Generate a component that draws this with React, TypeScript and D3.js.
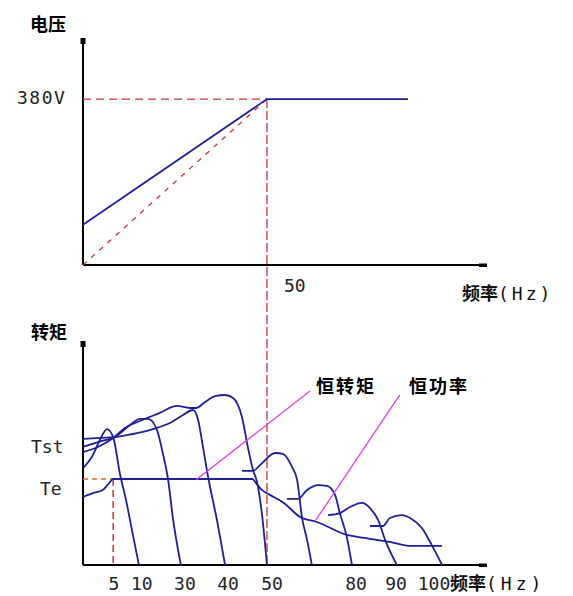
import React from "react";
import * as d3 from "d3";

// ---------- data (frequency in Hz-like diagram units, voltage in V, torque in %) ----------
const voltageFreq = [0, 50, 88.3];
const voltageBlue = [92, 380, 380];
const ratedFreq = 50;
const ratedVoltage = 380;

const lowFreqPoint = 8.2; // "5" marker
const teTorque = 38.4;

const bottomTickLabels = ["5", "10", "30", "40", "50", "80", "90", "100"];
const bottomTickPos = [8.4, 16.0, 27.7, 39.4, 51.4, 74.2, 85.1, 95.4];

type P = [number, number];
const curveTe: P[] = [[0, 30.4], [2.7, 32.1], [5.4, 33.5], [7.1, 36.6], [8.2, 38.4], [46.2, 38.4]];
const curveA: P[] = [[0, 43.3], [2.4, 48.2], [4.6, 55.8], [6.5, 60.7], [8.2, 57.1], [10.1, 40.2], [11.7, 29.0], [13.3, 15.6], [15.2, 0]];
const curveTst: P[] = [[0, 56.3], [8.7, 57.1]];
const curveB: P[] = [[0, 52.7], [5.2, 55.4], [8.7, 57.1], [12.8, 62.5], [15.5, 65.2], [17.7, 65.2], [20.1, 60.3], [21.5, 51.3], [23.1, 38.4], [24.5, 20.1], [26.6, 0]];
const curveC: P[] = [[8.7, 57.1], [14.7, 58.9], [19.0, 60.7], [23.6, 63.4], [27.2, 67.0], [29.9, 69.2], [31.3, 64.7], [32.6, 52.7], [34.0, 39.3], [36.4, 20.1], [38.6, 0]];
const curveD: P[] = [[0, 50.4], [4.6, 53.1], [8.2, 56.7], [11.4, 61.2], [15.5, 64.3], [20.9, 67.9], [25.5, 71.0], [29.1, 70.1], [30.7, 70.1], [33.2, 72.8], [35.9, 75.4], [38.6, 75.9], [40.8, 74.6], [43.2, 66.1], [44.8, 52.7], [46.2, 42.4], [47.3, 37.1], [48.6, 23.2], [50, 0]];
const curveE: P[] = [[43.2, 42.0], [46.2, 42.0], [48.1, 44.6], [52.2, 50.0], [54.3, 49.6], [56.8, 43.8], [58.2, 37.9], [59.5, 21.4], [60.9, 11.2], [62.2, 0]];
const curveF: P[] = [[55.4, 29.5], [58.4, 29.5], [60.9, 33.5], [63.9, 35.7], [66.3, 35.3], [68.5, 31.3], [69.8, 23.2], [71.7, 12.5], [73.1, 0]];
const curveG: P[] = [[66.6, 22.3], [69.8, 23.2], [72.6, 25.9], [75.8, 27.7], [78.0, 25.4], [80.2, 20.1], [82.1, 11.2], [85.3, 0]];
const curveH: P[] = [[78.0, 17.4], [81.5, 17.4], [83.4, 21.0], [86.7, 22.3], [88.9, 21.0], [92.1, 16.5], [94.8, 8.9], [97.6, 0]];
const curvePower: P[] = [[46.2, 38.4], [48.6, 33.5], [50.8, 31.3], [54.6, 27.7], [59.0, 21.4], [63.6, 19.2], [71.7, 13.4], [76.4, 12.1], [83.4, 10.3], [89.1, 8.5], [97.6, 8.5]];

const leaderTorque: P[] = [[30.7, 37.9], [61.7, 77.7]];
const leaderPower: P[] = [[63.3, 20.1], [86.1, 75.9]];

const motorCurves = [curveTe, curveA, curveTst, curveB, curveC, curveD, curveE, curveF, curveG, curveH, curvePower];

// ---------- layout ----------
const W = 573, H = 596;
const BLUE = "#1f1f96";
const RED = "#c8363a";
const PINK = "#e040e0";
const CJK = "'Noto Sans CJK SC', sans-serif";
const MONO = "'DejaVu Sans Mono', monospace";

export default function App() {
  const x = d3.scaleLinear().domain([0, 109.8]).range([83, 487]);
  const yTop = d3.scaleLinear().domain([0, 520]).range([265, 38]);
  const yBot = d3.scaleLinear().domain([0, 100]).range([565, 341]);

  const lineTop = d3.line<number>().x((_, i) => x(voltageFreq[i])).y((v) => yTop(v));
  const lineBot = d3.line<P>().x((d) => x(d[0])).y((d) => yBot(d[1])).curve(d3.curveMonotoneX);
  const lineStraight = d3.line<P>().x((d) => x(d[0])).y((d) => yBot(d[1]));

  const xMax = x.domain()[1];

  return (
    <svg width={W} height={H} style={{ position: "absolute", left: 0, top: 0, background: "#fff" }}>
      {/* ----- top chart ----- */}
      <line x1={x(0)} x2={x(0)} y1={yTop(0)} y2={yTop(520)} stroke="#000" strokeWidth={2} />
      <rect x={x(0) - 2.5} y={yTop(520)} width={5} height={6} fill="#000" />
      <line x1={x(0)} x2={x(xMax)} y1={yTop(0)} y2={yTop(0)} stroke="#000" strokeWidth={2} />
      <rect x={x(xMax) - 8} y={yTop(0) - 1.5} width={8} height={3.5} fill="#000" />

      {/* dashed reference lines */}
      <line x1={x(0)} x2={x(ratedFreq)} y1={yTop(ratedVoltage)} y2={yTop(ratedVoltage)} stroke={RED} strokeWidth={1.3} strokeDasharray="8,5" />
      <line x1={x(0)} x2={x(ratedFreq)} y1={yTop(0)} y2={yTop(ratedVoltage)} stroke={RED} strokeWidth={1.3} strokeDasharray="5,6" />
      <line x1={x(ratedFreq)} x2={x(ratedFreq)} y1={yTop(ratedVoltage)} y2={yBot(0)} stroke={RED} strokeWidth={1.3} strokeDasharray="9,3" />

      <path d={lineTop(voltageBlue) || ""} fill="none" stroke={BLUE} strokeWidth={1.8} />

      <text x={30} y={31} fontFamily={CJK} fontWeight="bold" fontSize={18}>电压</text>
      <text x={17} y={104} fontFamily={MONO} fontSize={18} letterSpacing={1.5} fill="#222">380V</text>
      <text x={x(ratedFreq) + 17} y={292} fontFamily={MONO} fontSize={18} fill="#222">50</text>
      <text x={462} y={300} fontSize={18} fill="#111">
        <tspan fontFamily={CJK} fontWeight="bold">频率</tspan>
        <tspan fontFamily={MONO} letterSpacing={3}>(Hz)</tspan>
      </text>

      {/* ----- bottom chart ----- */}
      <line x1={x(0)} x2={x(0)} y1={yBot(0)} y2={yBot(100)} stroke="#000" strokeWidth={2} />
      <rect x={x(0) - 2.5} y={yBot(100)} width={5} height={6} fill="#000" />
      <line x1={x(0)} x2={x(xMax)} y1={yBot(0)} y2={yBot(0)} stroke="#000" strokeWidth={2} />
      <rect x={x(xMax) - 8} y={yBot(0) - 1.5} width={8} height={3.5} fill="#000" />

      {/* Te dashed marker */}
      <line x1={x(0)} x2={x(lowFreqPoint)} y1={yBot(teTorque)} y2={yBot(teTorque)} stroke="#d07030" strokeWidth={1.3} strokeDasharray="5,4" />
      <line x1={x(lowFreqPoint)} x2={x(lowFreqPoint)} y1={yBot(teTorque)} y2={yBot(0)} stroke={RED} strokeWidth={1.5} strokeDasharray="7,4" />

      {motorCurves.map((c, i) => (
        <path key={i} d={lineBot(c) || ""} fill="none" stroke={BLUE} strokeWidth={1.8} />
      ))}

      {/* leaders */}
      <path d={lineStraight(leaderTorque) || ""} stroke={PINK} strokeWidth={1.3} fill="none" />
      <path d={lineStraight(leaderPower) || ""} stroke={PINK} strokeWidth={1.3} fill="none" />

      <text x={31} y={339} fontFamily={CJK} fontWeight="bold" fontSize={18}>转矩</text>
      <text x={31} y={453} fontFamily={MONO} fontSize={18} fill="#222">Tst</text>
      <text x={40} y={495} fontFamily={MONO} fontSize={18} fill="#222">Te</text>
      <text x={316} y={393} fontFamily={CJK} fontWeight="bold" fontSize={18} letterSpacing={2}>恒转矩</text>
      <text x={409} y={393} fontFamily={CJK} fontWeight="bold" fontSize={18} letterSpacing={2}>恒功率</text>

      {bottomTickLabels.map((t, i) => (
        <text key={t} x={x(bottomTickPos[i])} y={590} textAnchor="middle" fontFamily={MONO} fontSize={18} fill="#222">{t}</text>
      ))}
      <text x={450} y={590} fontSize={18} fill="#111">
        <tspan fontFamily={CJK} fontWeight="bold">频率</tspan>
        <tspan fontFamily={MONO} letterSpacing={4}>(Hz)</tspan>
      </text>
    </svg>
  );
}
